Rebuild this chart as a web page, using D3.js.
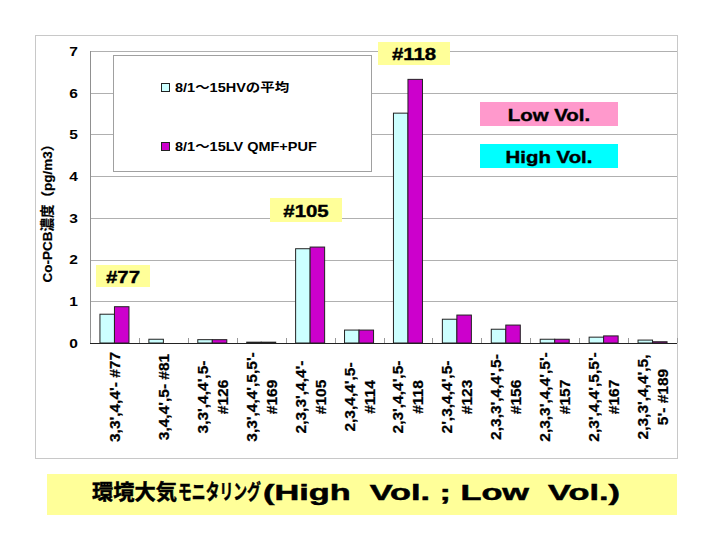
<!DOCTYPE html>
<html><head><meta charset="utf-8">
<script src="https://cdn.jsdelivr.net/npm/d3@7"></script>
<style>body{margin:0;background:#fff}svg{display:block}</style>
</head><body>
<svg id="c" width="720" height="540"></svg>
<script>
const categories = ["#77","#81","#126","#169","#105","#114","#118","#123","#156","#157","#167","#189"];
const labelLines = [
  ["3,3',4,4'- #77"],
  ["3,4,4',5- #81"],
  ["3,3',4,4',5-","#126"],
  ["3,3',4,4',5,5'-","#169"],
  ["2,3,3',4,4'-","#105"],
  ["2,3,4,4',5-","#114"],
  ["2,3',4,4',5-","#118"],
  ["2',3,4,4',5-","#123"],
  ["2,3,3',4,4',5-","#156"],
  ["2,3,3',4,4',5'-","#157"],
  ["2,3',4,4',5,5'-","#167"],
  ["2,3,3',4,4',5,","5'- #189"]
];
const hvValues = [0.69,0.09,0.08,0.02,2.26,0.31,5.51,0.57,0.33,0.09,0.14,0.07];
const lvValues = [0.87,0,0.08,0.02,2.30,0.31,6.32,0.67,0.43,0.09,0.17,0.03];
const seriesNames = ["8/1～15HVの平均","8/1～15LV QMF+PUF"];
const yTicks = [0,1,2,3,4,5,6,7];
const titleParts = ["環境大気","モニタリング","(High  Vol. ; Low  Vol.)"];

const svg = d3.select("#c");
const F = "'Liberation Sans', Arial, 'Noto Sans CJK JP', sans-serif";
const FJ = "'Liberation Sans', 'Noto Sans CJK JP', sans-serif";
const colors = ["#CCFFFF","#CC00CC"];

svg.append("rect").attr("x",35.5).attr("y",35.5).attr("width",642).attr("height",423)
  .attr("fill","#fff").attr("stroke","#c8c8c8");

const L=90, R=677, T=51, B=343;
const x = d3.scaleBand().domain(categories).range([L,R]).paddingInner(0).paddingOuter(0);
const y = d3.scaleLinear().domain([0,7]).range([B,T]);

svg.append("g").selectAll("line").data(yTicks.slice(1)).join("line")
  .attr("x1",L).attr("x2",R).attr("y1",d=>Math.round(y(d))+0.5).attr("y2",d=>Math.round(y(d))+0.5)
  .attr("stroke","#b0b0b0");
svg.append("line").attr("x1",L+0.5).attr("x2",L+0.5).attr("y1",T).attr("y2",B).attr("stroke","#909090");

const yAxis = d3.axisLeft(y).tickValues(yTicks).tickSize(0).tickPadding(0).tickFormat(d3.format("d"));
const ga = svg.append("g").attr("transform",`translate(${L-12},0)`).call(yAxis);
ga.select(".domain").remove();
ga.selectAll("text").attr("font-family",F).attr("font-weight","bold").attr("font-size",13.5)
  .attr("fill","#000").attr("transform","scale(1.15,1)");

svg.append("rect").attr("x",113.5).attr("y",55.5).attr("width",258).attr("height",116)
  .attr("fill","#fff").attr("stroke","#a0a0a0");

const x1 = d3.scaleBand().domain([0,1]).range([0,x.bandwidth()]).paddingInner(0).paddingOuter(0.686);
const gb = svg.append("g");
categories.forEach((c,i)=>{
  [hvValues[i],lvValues[i]].forEach((v,s)=>{
    if(v<=0) return;
    gb.append("rect")
      .attr("x",x(c)+x1(s)).attr("width",x1.bandwidth())
      .attr("y",y(v)).attr("height",Math.max(1,y(0)-y(v)))
      .attr("fill",colors[s]).attr("stroke","#222").attr("stroke-width",1);
  });
});

svg.append("line").attr("x1",L).attr("x2",R).attr("y1",B+0.5).attr("y2",B+0.5).attr("stroke","#222");
svg.append("g").selectAll("line").data(d3.range(categories.length+1)).join("line")
  .attr("x1",d=>Math.round(L+d*x.bandwidth())+0.5).attr("x2",d=>Math.round(L+d*x.bandwidth())+0.5)
  .attr("y1",B).attr("y2",B-5).attr("stroke","#999");

const gl = svg.append("g");
categories.forEach((c,i)=>{
  const lines = labelLines[i];
  const cx = x(c)+x.bandwidth()/2;
  lines.forEach((t,k)=>{
    const off = (k-(lines.length-1)/2)*20;
    gl.append("text").attr("transform",`translate(${cx+off},397) rotate(-90)`)
      .attr("text-anchor","middle").attr("dominant-baseline","central")
      .attr("font-family",F).attr("font-weight","bold").attr("font-size",15.5)
      .attr("stroke","#000").attr("stroke-width",0.25).text(t);
  });
});

svg.append("text").attr("transform","translate(47,210) rotate(-90)")
  .attr("text-anchor","middle").attr("dominant-baseline","central")
  .attr("font-family",FJ).attr("font-weight","bold").attr("font-size",13.5)
  .attr("stroke","#000").attr("stroke-width",0.2).text("Co-PCB濃度（pg/m3）");

seriesNames.forEach((n,s)=>{
  const ly = [88,147][s];
  svg.append("rect").attr("x",161.5).attr("y",ly-4.5).attr("width",8).attr("height",8)
    .attr("fill",colors[s]).attr("stroke","#222");
  svg.append("text").attr("transform",`translate(175,${ly}) scale(1.16,1)`).attr("dominant-baseline","central")
    .attr("font-family",FJ).attr("font-weight","bold").attr("font-size",12.5).text(n);
});

function box(x0,y0,w,h,fill,txt){
  svg.append("rect").attr("x",x0).attr("y",y0).attr("width",w).attr("height",h).attr("fill",fill);
  svg.append("text").attr("transform",`translate(${x0+w/2},${y0+h/2+1}) scale(1.2,1)`).attr("text-anchor","middle")
    .attr("dominant-baseline","central").attr("font-family",F).attr("font-weight","bold")
    .attr("font-size",17).attr("stroke","#000").attr("stroke-width",0.4).text(txt);
}
box(96,265,54,22,"#FFFF99","#77");
box(270,198,72,24,"#FFFF99","#105");
box(378,42,72,23,"#FFFF99","#118");
box(480,102,138,24,"#FF99CC","Low Vol.");
box(480,144,138,24,"#00FFFF","High Vol.");

svg.append("rect").attr("x",47).attr("y",474).attr("width",630).attr("height",41).attr("fill","#FFFF99");
const tSpecs = [[92,85,21],[178,83,21],[263,357,22.5]];
titleParts.forEach((p,i)=>{
  const [x0,w,fs] = tSpecs[i];
  const t = svg.append("text").attr("dominant-baseline","central")
    .attr("font-family",FJ).attr("font-weight","bold").attr("font-size",fs)
    .attr("xml:space","preserve").attr("stroke","#000").attr("stroke-width",0.5).text(p);
  const nat = t.node().getComputedTextLength();
  t.attr("transform",`translate(${x0},492) scale(${w/nat},1)`);
});
</script>
</body></html>
